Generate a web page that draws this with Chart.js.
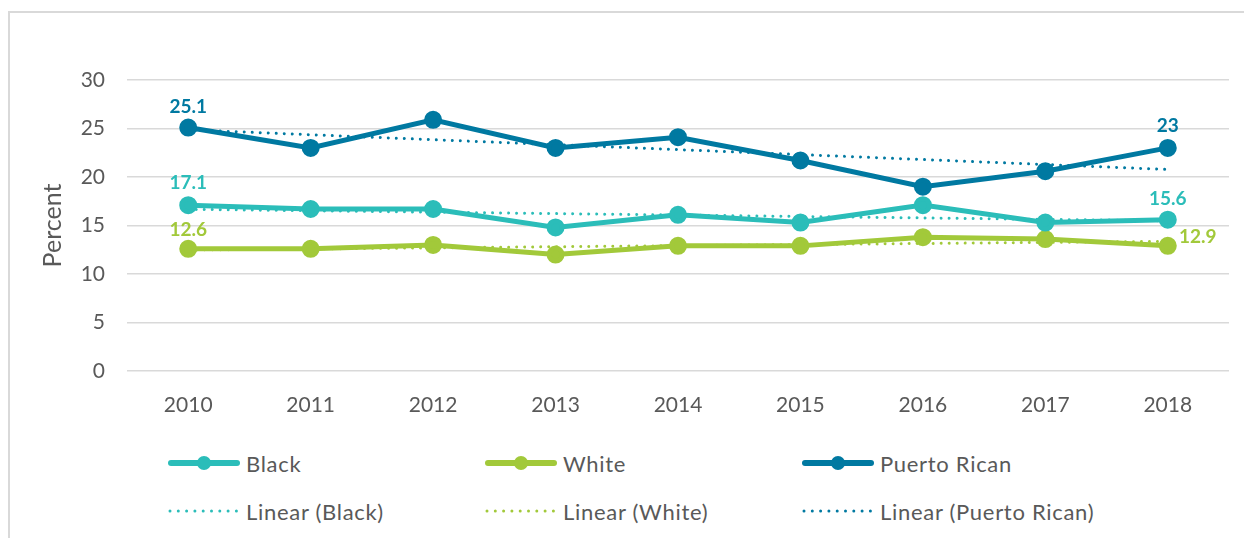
<!DOCTYPE html>
<html>
<head>
<meta charset="utf-8">
<script src="https://cdn.jsdelivr.net/npm/chart.js@4/dist/chart.umd.min.js"></script>
<style>
  html, body { margin: 0; padding: 0; background: #fff; }
  body { width: 1244px; height: 538px; position: relative; overflow: hidden; font-family: Lato, sans-serif; }
  .frame { position: absolute; left: 8px; top: 11px; width: 1300px; height: 600px; border-left: 2px solid #d9d9d9; border-top: 2px solid #d9d9d9; }
  #wrap { position: absolute; left: 0; top: 0; width: 1244px; height: 430px; }
  .leg { position: absolute; display: flex; align-items: center; font-size: 22px; letter-spacing: 0.7px; color: #595959; height: 30px; white-space: nowrap; }
  .leg svg { margin-right: 6px; }
</style>
</head>
<body>
<div class="frame"></div>
<div id="wrap"><canvas id="chart"></canvas></div>
<div id="legend"></div>
<script>
const years = ['2010', '2011', '2012', '2013', '2014', '2015', '2016', '2017', '2018'];
const black = [17.1, 16.7, 16.7, 14.8, 16.1, 15.3, 17.1, 15.3, 15.6];
const white = [12.6, 12.6, 13.0, 12.0, 12.9, 12.9, 13.8, 13.6, 12.9];
const puertoRican = [25.1, 23.0, 25.9, 23.0, 24.1, 21.7, 19.0, 20.6, 23.0];
const seriesNames = ['Black', 'White', 'Puerto Rican'];
const colors = ['#2bbdb9', '#a2c93a', '#0079a1'];
const yTicks = [0, 5, 10, 15, 20, 25, 30];

// least squares trend, like the spreadsheet "Linear" trendline
function linearTrend(vals) {
  const n = vals.length;
  const mx = (n - 1) / 2;
  const my = vals.reduce((s, v) => s + v, 0) / n;
  let sxy = 0, sxx = 0;
  vals.forEach((v, i) => { sxy += (i - mx) * (v - my); sxx += (i - mx) * (i - mx); });
  const b = sxy / sxx;
  return vals.map((v, i) => my + b * (i - mx));
}

const series = [black, white, puertoRican];

const mainSets = series.map((data, i) => ({
  label: seriesNames[i],
  data: data,
  borderColor: colors[i],
  backgroundColor: colors[i],
  borderWidth: 5,
  pointRadius: 6.5,
  pointHoverRadius: 6.5,
  tension: 0,
  order: 0,
  showLabels: true
}));

const trendSets = series.map((data, i) => ({
  label: 'Linear (' + seriesNames[i] + ')',
  data: linearTrend(data),
  borderColor: colors[i],
  borderWidth: 3,
  borderDash: [0.01, 8],
  borderCapStyle: 'round',
  pointRadius: 0,
  tension: 0,
  order: 1
}));

// label offsets for first / last points (dx, dy from point centre)
const labelPos = {
  'Black': [[0, -22], [0, -21]],
  'White': [[0, -19], [30, -9]],
  'Puerto Rican': [[0, -21], [0, -22]]
};

const endLabels = {
  id: 'endLabels',
  afterDatasetsDraw(chart) {
    const ctx = chart.ctx;
    ctx.save();
    ctx.font = 'bold 19px Lato';
    ctx.textAlign = 'center';
    ctx.textBaseline = 'middle';
    chart.data.datasets.forEach((ds, di) => {
      if (!ds.showLabels) return;
      const meta = chart.getDatasetMeta(di);
      const last = ds.data.length - 1;
      [0, last].forEach((idx, k) => {
        const pt = meta.data[idx];
        const off = labelPos[ds.label][k];
        ctx.fillStyle = ds.borderColor;
        ctx.fillText(String(ds.data[idx]), pt.x + off[0], pt.y + off[1]);
      });
    });
    ctx.restore();
  }
};

new Chart(document.getElementById('chart'), {
  type: 'line',
  data: { labels: years, datasets: [...mainSets, ...trendSets] },
  options: {
    responsive: true,
    maintainAspectRatio: false,
    animation: false,
    events: [],
    layout: { padding: { top: 80, right: 15, left: 0, bottom: 0 } },
    plugins: { legend: { display: false }, tooltip: { enabled: false } },
    scales: {
      x: {
        offset: true,
        grid: { display: false },
        border: { display: false },
        ticks: { color: '#595959', font: { family: 'Lato', size: 21 }, padding: 14 },
        afterFit(axis) { axis.height = 59; }
      },
      y: {
        min: 0,
        max: 30,
        afterBuildTicks(axis) { axis.ticks = yTicks.map(v => ({ value: v })); },
        grid: { color: '#d9d9d9', lineWidth: 1.5, drawTicks: false },
        border: { display: false },
        ticks: { color: '#595959', font: { family: 'Lato', size: 21 }, padding: 22 },
        title: { display: true, text: 'Percent', color: '#595959', font: { family: 'Lato', size: 25 }, padding: { top: 38, bottom: 0 } },
        afterFit(axis) { axis.width = 127; }
      }
    }
  },
  plugins: [endLabels]
});

// legend: 3 columns x 2 rows
const legendCols = [168, 485, 802];
const legendRows = [464, 512];
const legend = document.getElementById('legend');
seriesNames.forEach((name, i) => {
  const a = document.createElement('div');
  a.className = 'leg';
  a.style.left = legendCols[i] + 'px';
  a.style.top = (legendRows[0] - 16) + 'px';
  a.innerHTML = '<svg width="72" height="16"><line x1="3" y1="8" x2="69" y2="8" stroke="' + colors[i] +
    '" stroke-width="6" stroke-linecap="round"/><circle cx="36" cy="8" r="7" fill="' + colors[i] + '"/></svg>' + name;
  legend.appendChild(a);
  const b = document.createElement('div');
  b.className = 'leg';
  b.style.left = legendCols[i] + 'px';
  b.style.top = (legendRows[1] - 16) + 'px';
  b.innerHTML = '<svg width="72" height="16"><line x1="2" y1="8" x2="70" y2="8" stroke="' + colors[i] +
    '" stroke-width="3" stroke-dasharray="0 8.3" stroke-linecap="round"/></svg>' + 'Linear (' + name + ')';
  legend.appendChild(b);
});
</script>
</body>
</html>
